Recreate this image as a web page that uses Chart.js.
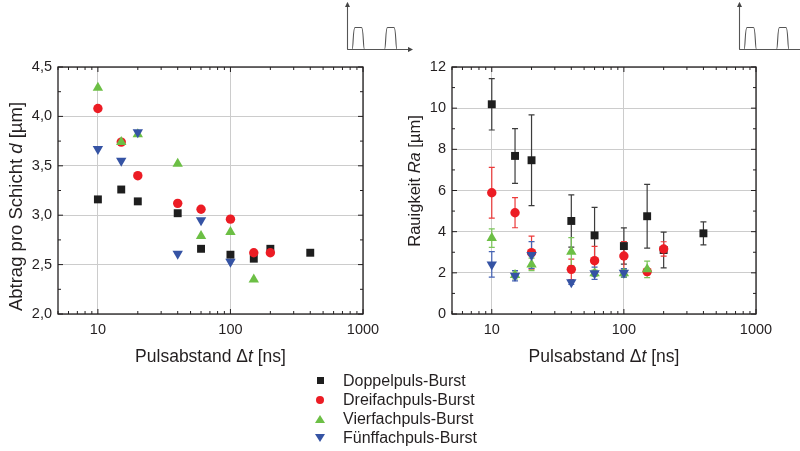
<!DOCTYPE html>
<html lang="de">
<head>
<meta charset="utf-8">
<title>Abtrag und Rauigkeit je Burst-Modus</title>
<script src="https://cdn.jsdelivr.net/npm/chart.js@4"></script>
<style>
    body { margin: 0; background: #fff; font-family: "Liberation Sans", Arial, sans-serif; color: #231f20; }
    .wrap { position: relative; width: 800px; height: 451px; overflow: hidden; }
    canvas.panel { position: absolute; top: 0; }
    #leftChart { left: 0; }
    #rightChart { left: 400px; }
    .legend { position: absolute; left: 310px; top: 371px; font-size: 16px; }
    .legend .row { display: flex; align-items: center; height: 19px; }
    .legend .mark { width: 20px; height: 19px; display: flex; align-items: center; justify-content: center; margin-right: 13px; }
    .sq { width: 7px; height: 7px; background: #1e1e1e; }
    .ci { width: 8px; height: 8px; border-radius: 50%; background: #ec1c24; }
    .tu { width: 0; height: 0; border-left: 5px solid transparent; border-right: 5px solid transparent; border-bottom: 8px solid #6cbf45; }
    .td { width: 0; height: 0; border-left: 5px solid transparent; border-right: 5px solid transparent; border-top: 8px solid #3553a4; }
    svg.icons { position: absolute; left: 0; top: 0; pointer-events: none; }
</style>
</head>
<body>
<div class="wrap">
    <canvas id="leftChart" class="panel" width="400" height="451"></canvas>
    <canvas id="rightChart" class="panel" width="400" height="451"></canvas>

    <div class="legend">
        <div class="row"><span class="mark"><span class="sq"></span></span>Doppelpuls-Burst</div>
        <div class="row"><span class="mark"><span class="ci"></span></span>Dreifachpuls-Burst</div>
        <div class="row"><span class="mark"><span class="tu"></span></span>Vierfachpuls-Burst</div>
        <div class="row"><span class="mark"><span class="td"></span></span>Fünffachpuls-Burst</div>
    </div>

    <svg class="icons" width="800" height="451">
        <defs>
            <marker id="arr" markerWidth="5" markerHeight="5" refX="4" refY="2.5" orient="auto">
                <path d="M0,0 L5,2.5 L0,5 z" fill="#444"></path>
            </marker>
        </defs>
        <g id="pulseIcon" fill="none" stroke="#555" stroke-width="1.1">
            <path d="M347.5,49.5 V3" marker-end="url(#arr)"></path>
            <path d="M347.5,49.5 H412" marker-end="url(#arr)"></path>
            <path d="M347.5,49.5 H352 C353.5,49.5 352.8,27.5 355,27.5 H361.5 C363.7,27.5 363,49.5 364.5,49.5 H384.5 C386,49.5 385.3,27.5 387.5,27.5 H394 C396.2,27.5 395.5,49.5 397,49.5"></path>
        </g>
        <use href="#pulseIcon" transform="translate(392,0)"></use>
    </svg>
</div>

<script>
const doppelDt = [10, 15, 20, 40, 60, 100, 150, 200, 400];
const dreiDt = [10, 15, 20, 40, 60, 100, 150, 200];
const vierDt = [10, 15, 20, 40, 60, 100, 150];
const fuenfDt = [10, 15, 20, 40, 60, 100];

// Abtrag pro Schicht d [µm]
const doppelAbtrag = [3.16, 3.26, 3.14, 3.02, 2.66, 2.60, 2.56, 2.66, 2.62];
const dreiAbtrag = [4.08, 3.74, 3.40, 3.12, 3.06, 2.96, 2.62, 2.62];
const vierAbtrag = [4.29, 3.74, 3.82, 3.52, 2.79, 2.83, 2.35];
const fuenfAbtrag = [3.67, 3.55, 3.84, 2.61, 2.95, 2.53];

// Rauigkeit Ra [µm] mit Standardabweichung
const doppelRa = [10.19, 7.68, 7.47, 4.52, 3.82, 3.30, 4.75, 3.11, 3.92];
const doppelRaErr = [1.25, 1.33, 2.20, 1.27, 1.36, 0.88, 1.55, 0.87, 0.56];
const dreiRa = [5.89, 4.92, 2.98, 2.17, 2.59, 2.82, 2.06, 3.16];
const dreiRaErr = [1.23, 0.73, 0.80, 0.50, 0.70, 0.70, 0.15, 0.35];
const vierRa = [3.69, 1.90, 2.41, 3.03, 1.98, 1.98, 2.17];
const vierRaErr = [0.45, 0.20, 0.30, 0.68, 0.15, 0.20, 0.40];
const fuenfRa = [2.41, 1.86, 2.87, 1.54, 1.98, 2.00];
const fuenfRaErr = [0.62, 0.25, 0.65, 0.10, 0.30, 0.20];

const seriesNames = ['Doppelpuls-Burst', 'Dreifachpuls-Burst', 'Vierfachpuls-Burst', 'Fünffachpuls-Burst'];
const decadeTicks = [10, 100, 1000];

// Darstellung
const markerColors = ['#1e1e1e', '#ec1c24', '#6cbf45', '#3553a4'];
const errColors = ['#3c3c3c', '#ec3a3a', '#7cc65a', '#4563b4'];
const markerStyles = ['rect', 'circle', 'triangle', 'triangle'];
const markerRotation = [0, 0, 0, 180];
const markerRadius = [5.6, 4.7, 6, 6];
const fontFamily = '"Liberation Sans", Arial, sans-serif';
const textColor = '#231f20';
const gridColor = '#cccccc';

function richText(ctx, parts, size) {
    const fontOf = it => (it ? 'italic ' : '') + size + 'px ' + fontFamily;
    const widths = parts.map(p => { ctx.font = fontOf(p[1]); return ctx.measureText(p[0]).width; });
    let x = -widths.reduce((a, b) => a + b, 0) / 2;
    parts.forEach((p, i) => {
        ctx.font = fontOf(p[1]);
        ctx.fillText(p[0], x, 0);
        x += widths[i];
    });
}

function decorPlugin(cfg) {
    return {
        id: 'decor',
        beforeDatasetsDraw(chart) {
            // Fehlerbalken
            if (!cfg.errors) return;
            const { ctx, scales: { x, y } } = chart;
            ctx.save();
            ctx.lineWidth = 1.2;
            cfg.series.forEach((s, i) => {
                ctx.strokeStyle = errColors[i];
                s.x.forEach((xv, k) => {
                    const e = cfg.errors[i][k];
                    const px = x.getPixelForValue(xv);
                    const top = y.getPixelForValue(s.y[k] + e);
                    const bot = y.getPixelForValue(s.y[k] - e);
                    ctx.beginPath();
                    ctx.moveTo(px, top); ctx.lineTo(px, bot);
                    ctx.moveTo(px - 3, top); ctx.lineTo(px + 3, top);
                    ctx.moveTo(px - 3, bot); ctx.lineTo(px + 3, bot);
                    ctx.stroke();
                });
            });
            ctx.restore();
        },
        afterDraw(chart) {
            const { ctx, chartArea: a, scales: { x, y } } = chart;
            ctx.save();
            ctx.strokeStyle = textColor;
            ctx.lineWidth = 1.3;
            ctx.strokeRect(a.left, a.top, a.right - a.left, a.bottom - a.top);
            ctx.lineWidth = 1;
            ctx.beginPath();
            // Teilstriche innen, x-Achse (log)
            for (let d = 1; d <= 1000; d *= 10) {
                for (let m = 1; m < 10; m++) {
                    const v = d * m;
                    if (v < x.min || v > x.max) continue;
                    const px = x.getPixelForValue(v);
                    const len = m === 1 ? 5 : 3;
                    ctx.moveTo(px, a.bottom); ctx.lineTo(px, a.bottom - len);
                    ctx.moveTo(px, a.top); ctx.lineTo(px, a.top + len);
                }
            }
            // Teilstriche innen, y-Achse
            for (let v = y.min; v <= y.max + 1e-9; v += cfg.minorStep) {
                const r = v / cfg.majorStep;
                const len = Math.abs(r - Math.round(r)) < 1e-6 ? 5 : 3;
                const py = y.getPixelForValue(v);
                ctx.moveTo(a.left, py); ctx.lineTo(a.left + len, py);
                ctx.moveTo(a.right, py); ctx.lineTo(a.right - len, py);
            }
            ctx.stroke();

            // Achsentitel
            ctx.fillStyle = textColor;
            ctx.textBaseline = 'alphabetic';
            ctx.save();
            ctx.translate((a.left + a.right) / 2, 361.5);
            richText(ctx, cfg.xTitle, cfg.xTitleSize);
            ctx.restore();
            ctx.save();
            ctx.translate(cfg.yTitleX, cfg.yTitleY);
            ctx.rotate(-Math.PI / 2);
            richText(ctx, cfg.yTitle, cfg.yTitleSize);
            ctx.restore();
            ctx.restore();
        }
    };
}

function makePanel(canvasId, cfg) {
    const datasets = cfg.series.map((s, i) => ({
        label: seriesNames[i],
        data: s.x.map((xv, k) => ({ x: xv, y: s.y[k] })),
        pointStyle: markerStyles[i],
        pointRotation: markerRotation[i],
        pointRadius: markerRadius[i],
        pointBackgroundColor: markerColors[i],
        pointBorderColor: markerColors[i],
        pointBorderWidth: 0,
        order: 4 - i
    }));
    const tickFont = { size: 14.5, family: fontFamily };
    return new Chart(document.getElementById(canvasId), {
        type: 'scatter',
        data: { datasets },
        options: {
            responsive: false,
            animation: false,
            layout: { padding: { left: 0, top: 67, right: cfg.padRight, bottom: 0 } },
            plugins: { legend: { display: false }, tooltip: { enabled: false } },
            scales: {
                x: {
                    type: 'logarithmic',
                    min: 5,
                    max: 1000,
                    afterBuildTicks: s => { s.ticks = decadeTicks.map(v => ({ value: v })); },
                    afterFit: s => { s.height = 137; },
                    ticks: { padding: 7, color: textColor, font: tickFont, maxRotation: 0, autoSkip: false, callback: v => String(v) },
                    grid: { color: gridColor, drawTicks: false, lineWidth: 1 },
                    border: { display: false }
                },
                y: {
                    min: cfg.yMin,
                    max: cfg.yMax,
                    afterFit: s => { s.width = cfg.yAxisWidth; },
                    ticks: { stepSize: cfg.majorStep, padding: 6, color: textColor, font: tickFont, callback: cfg.yFormat },
                    grid: { color: gridColor, drawTicks: false, lineWidth: 1 },
                    border: { display: false }
                }
            }
        },
        plugins: [decorPlugin(cfg)]
    });
}

makePanel('leftChart', {
    series: [
        { x: doppelDt, y: doppelAbtrag },
        { x: dreiDt, y: dreiAbtrag },
        { x: vierDt, y: vierAbtrag },
        { x: fuenfDt, y: fuenfAbtrag }
    ],
    yMin: 2, yMax: 4.5, majorStep: 0.5, minorStep: 0.25,
    yFormat: v => v.toFixed(1).replace('.', ','),
    yAxisWidth: 58, padRight: 37,
    xTitle: [['Pulsabstand \u0394', false], ['t', true], [' [ns]', false]], xTitleSize: 17.5,
    yTitle: [['Abtrag pro Schicht ', false], ['d', true], [' [\u00b5m]', false]], yTitleSize: 18.5,
    yTitleX: 22, yTitleY: 206.5
});

makePanel('rightChart', {
    series: [
        { x: doppelDt, y: doppelRa },
        { x: dreiDt, y: dreiRa },
        { x: vierDt, y: vierRa },
        { x: fuenfDt, y: fuenfRa }
    ],
    errors: [doppelRaErr, dreiRaErr, vierRaErr, fuenfRaErr],
    yMin: 0, yMax: 12, majorStep: 2, minorStep: 1,
    yFormat: v => String(v),
    yAxisWidth: 52, padRight: 44,
    xTitle: [['Pulsabstand \u0394', false], ['t', true], [' [ns]', false]], xTitleSize: 17.5,
    yTitle: [['Rauigkeit ', false], ['Ra', true], [' [\u00b5m]', false]], yTitleSize: 16.5,
    yTitleX: 19.5, yTitleY: 181
});
</script>
</body>
</html>
